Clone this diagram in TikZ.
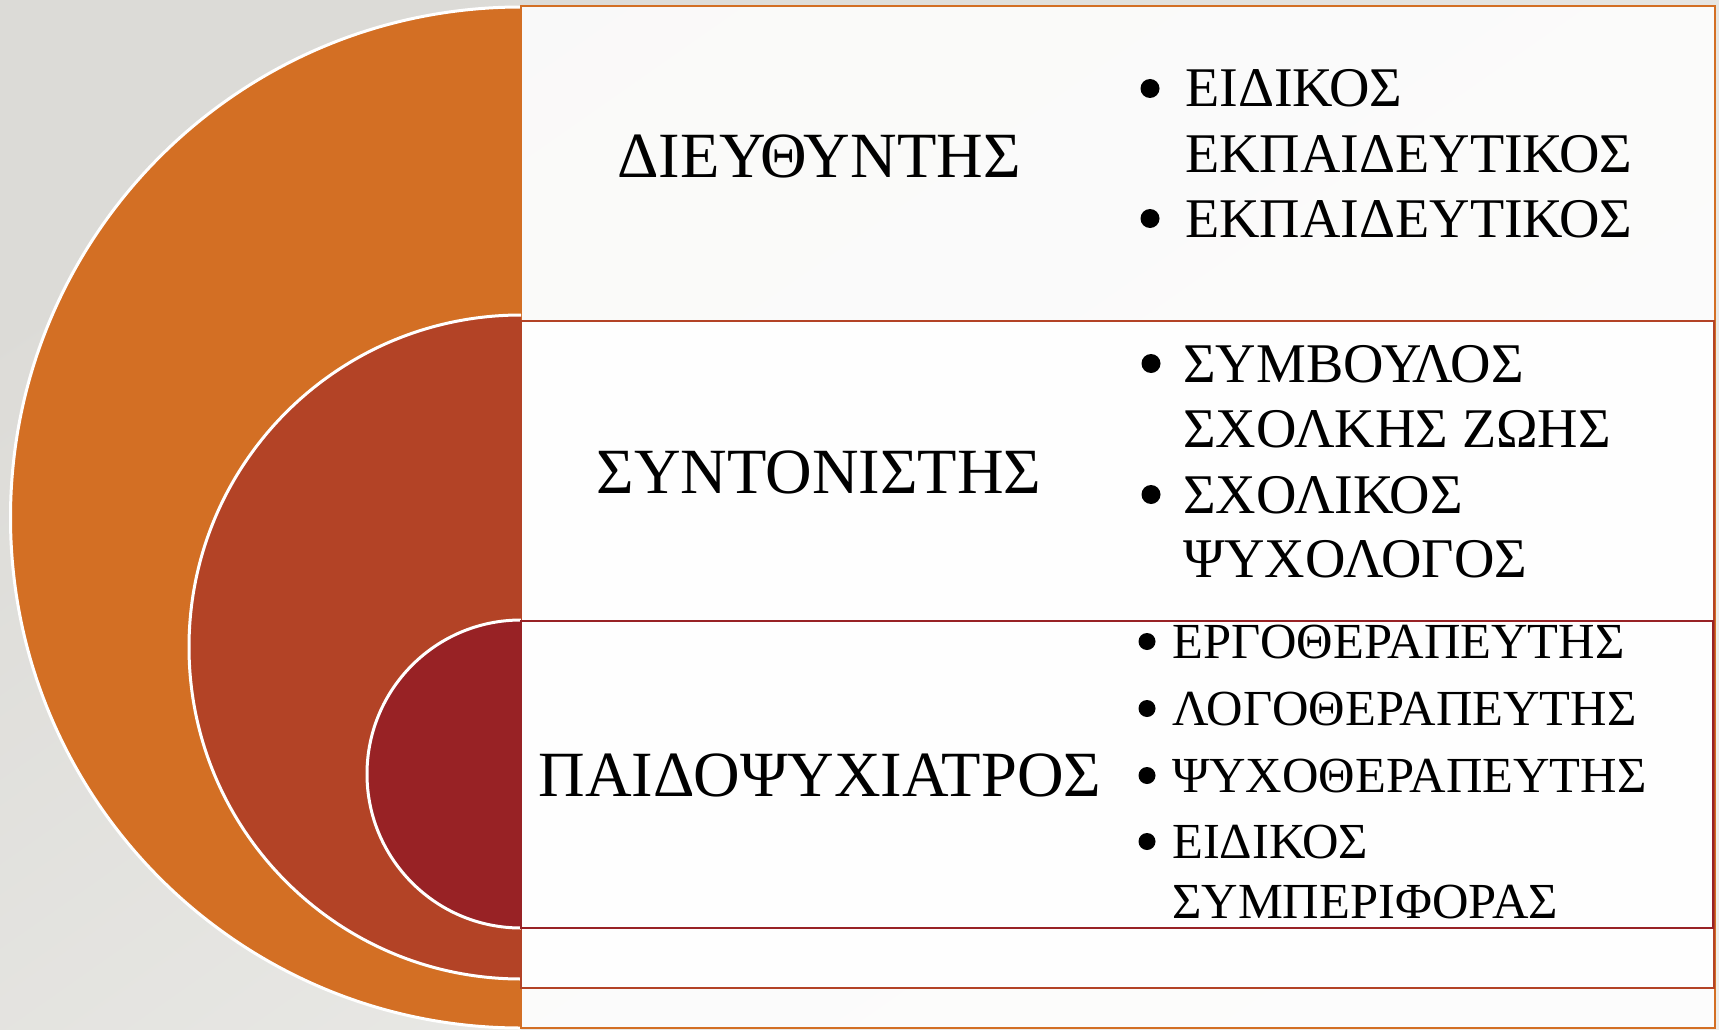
\documentclass[tikz,border=0pt]{standalone}
\usepackage{fontspec}
\setmainfont{Liberation Serif}
\definecolor{bgA}{HTML}{DCDBD7}
\definecolor{bgB}{HTML}{EEEEEB}
\definecolor{orangeC}{HTML}{D36F24}
\definecolor{brownC}{HTML}{B34326}
\definecolor{redC}{HTML}{982225}
\tikzset{
  mainlbl/.style={font=\fontsize{64.5}{76}\selectfont, anchor=base, inner sep=0pt},
  itemA/.style={font=\fontsize{56}{67}\selectfont, anchor=base west, inner sep=0pt},
  itemB/.style={font=\fontsize{50.5}{60}\selectfont, anchor=base west, inner sep=0pt},
  bulA/.style={circle, fill=black, inner sep=0pt, minimum size=19pt},
  bulB/.style={circle, fill=black, inner sep=0pt, minimum size=17pt},
  panel/.style={fill=white, fill opacity=0.85, line width=2.5pt},
  rim/.style={white, line width=3pt},
}
\begin{document}
\begin{tikzpicture}[x=1pt,y=-1pt]
\useasboundingbox (0,0) rectangle (1719,1030);
\shade[top color=bgA, bottom color=bgB, shading angle=35] (0,0) rectangle (1719,1030);
% outer
\fill[orangeC] (521,7) arc[start angle=90, end angle=270, radius=510.5pt] -- cycle;
\draw[rim] (521,7) arc[start angle=90, end angle=270, radius=510.5pt];
\draw[panel, draw=orangeC] (521,6) rectangle (1715,1028);
% middle
\fill[brownC] (521,315) arc[start angle=90, end angle=270, radius=332pt] -- cycle;
\draw[rim] (521,315) arc[start angle=90, end angle=270, radius=332pt];
\draw[panel, draw=brownC] (521,321) rectangle (1714,988);
% inner
\fill[redC] (521,620) arc[start angle=90, end angle=270, radius=154pt] -- cycle;
\draw[rim] (521,620) arc[start angle=90, end angle=270, radius=154pt];
\draw[panel, draw=redC] (521,621) rectangle (1713,928);
% main labels
\node[mainlbl] (l1) at (819,177) {ΔΙΕΥΘΥΝΤΗΣ};
\node[mainlbl] (l2) at (819,493) {ΣΥΝΤΟΝΙΣΤΗΣ};
\node[mainlbl] (l3) at (820,796) {ΠΑΙΔΟΨΥΧΙΑΤΡΟΣ};
% list 1
\node[bulA] (b11) at (1150,88.5) {};
\node[itemA] (t11) at (1185,107) {ΕΙΔΙΚΟΣ};
\node[itemA] (t12) at (1185,172) {ΕΚΠΑΙΔΕΥΤΙΚΟΣ};
\node[bulA] (b12) at (1150,218.5) {};
\node[itemA] (t13) at (1185,237) {ΕΚΠΑΙΔΕΥΤΙΚΟΣ};
% list 2
\node[bulA] (b21) at (1151,363.5) {};
\node[itemA] (t21) at (1183,382) {ΣΥΜΒΟΥΛΟΣ};
\node[itemA] (t22) at (1183,447) {ΣΧΟΛΚΗΣ ΖΩΗΣ};
\node[bulA] (b22) at (1151,494.5) {};
\node[itemA] (t23) at (1183,513) {ΣΧΟΛΙΚΟΣ};
\node[itemA] (t24) at (1183,577) {ΨΥΧΟΛΟΓΟΣ};
% list 3
\node[bulB] (b31) at (1147,641.5) {};
\node[itemB] (t31) at (1172,658) {ΕΡΓΟΘΕΡΑΠΕΥΤΗΣ};
\node[bulB] (b32) at (1147,708.5) {};
\node[itemB] (t32) at (1172,725) {ΛΟΓΟΘΕΡΑΠΕΥΤΗΣ};
\node[bulB] (b33) at (1147,775.5) {};
\node[itemB] (t33) at (1172,792) {ΨΥΧΟΘΕΡΑΠΕΥΤΗΣ};
\node[bulB] (b34) at (1147,841.5) {};
\node[itemB] (t34) at (1172,858) {ΕΙΔΙΚΟΣ};
\node[itemB] (t35) at (1172,918) {ΣΥΜΠΕΡΙΦΟΡΑΣ};
\end{tikzpicture}
\end{document}
